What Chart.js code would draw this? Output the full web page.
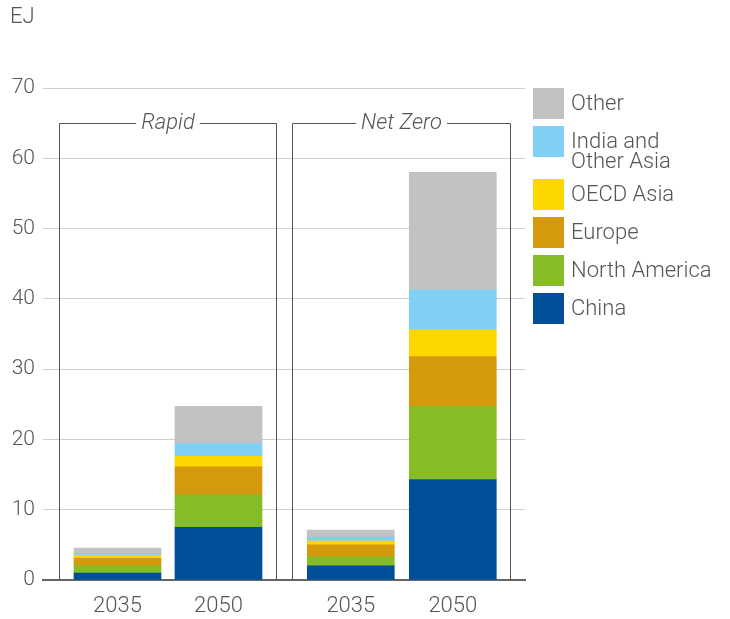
<!DOCTYPE html>
<html>
<head>
<meta charset="utf-8">
<script src="https://cdn.jsdelivr.net/npm/chart.js@4"></script>
<style>
  html, body { margin: 0; padding: 0; background: #fff; }
  #wrap { width: 730px; height: 619px; position: relative; }
</style>
</head>
<body>
<div id="wrap"><canvas id="regionChart"></canvas></div>
<script>
// bars: two scenarios x two years
const years = ['2035', '2050', '2035', '2050'];
const scenarios = ['Rapid', 'Net Zero'];
const unitLabel = 'EJ';

// values in EJ, bottom of the stack first
const china = [1.0, 7.5, 2.0, 14.3];
const northAmerica = [1.0, 4.6, 1.3, 10.4];
const europe = [1.1, 4.0, 1.7, 7.1];
const oecdAsia = [0.4, 1.5, 0.55, 3.8];
const indiaOtherAsia = [0.25, 1.8, 0.55, 5.7];
const other = [0.8, 5.3, 1.0, 16.7];

const seriesNames = ['China', 'North America', 'Europe', 'OECD Asia', ['India and', 'Other Asia'], 'Other'];
const seriesValues = [china, northAmerica, europe, oecdAsia, indiaOtherAsia, other];
const seriesColors = ['#004f98', '#86bc25', '#d4990d', '#ffd700', '#80cff5', '#c2c2c2'];

// where each bar sits on the x axis (gap between the two scenarios)
const barSlots = [0, 1, 2.31, 3.32];

const textColor = '#555';
const fontFamily = 'Roboto, "Liberation Sans", sans-serif';

const datasets = seriesValues.map(function (vals, i) {
    return {
        label: seriesNames[i],
        data: vals.map(function (v, j) { return { x: barSlots[j], y: v }; }),
        backgroundColor: seriesColors[i],
        borderWidth: 0,
        barThickness: 87
    };
});

// panel frames + scenario names, legend and unit label
const extrasPlugin = {
    id: 'extras',
    afterDatasetsDraw: function (chart) {
        const ctx = chart.ctx;
        const xs = chart.scales.x;
        const ys = chart.scales.y;
        const half = 87 / 2;

        ctx.save();
        ctx.font = 'italic 300 22px ' + fontFamily;
        ctx.textBaseline = 'middle';
        ctx.textAlign = 'center';
        ctx.strokeStyle = '#555';
        ctx.lineWidth = 1;
        scenarios.forEach(function (name, g) {
            const left = Math.round(xs.getPixelForValue(barSlots[g * 2]) - half - 15) + 0.5;
            const right = Math.round(xs.getPixelForValue(barSlots[g * 2 + 1]) + half + 14) + 0.5;
            const top = Math.round(ys.getPixelForValue(65)) + 0.5;
            const bottom = ys.getPixelForValue(0);
            const mid = (left + right) / 2;
            const tw = ctx.measureText(name).width / 2 + 5;
            ctx.beginPath();
            ctx.moveTo(mid - tw, top);
            ctx.lineTo(left, top);
            ctx.lineTo(left, bottom);
            ctx.moveTo(mid + tw, top);
            ctx.lineTo(right, top);
            ctx.lineTo(right, bottom);
            ctx.stroke();
            ctx.fillStyle = textColor;
            ctx.fillText(name, mid, top);
        });

        // legend, top of stack first
        ctx.font = '300 22px ' + fontFamily;
        ctx.textAlign = 'left';
        let y = 88;
        for (let i = seriesNames.length - 1; i >= 0; i--) {
            const lines = Array.isArray(seriesNames[i]) ? seriesNames[i] : [seriesNames[i]];
            ctx.fillStyle = seriesColors[i];
            ctx.fillRect(533, y, 31, 31);
            ctx.fillStyle = textColor;
            lines.forEach(function (t, k) {
                ctx.fillText(t, 571, y + 16 + k * 20);
            });
            y += 38 + (lines.length - 1) * 15;
        }

        ctx.fillText(unitLabel, 10, 17);
        ctx.restore();
    }
};

new Chart(document.getElementById('regionChart'), {
    type: 'bar',
    data: { datasets: datasets },
    options: {
        responsive: true,
        maintainAspectRatio: false,
        animation: false,
        layout: { padding: { top: 88, right: 205, left: 0, bottom: 0 } },
        plugins: {
            legend: { display: false },
            tooltip: { enabled: false }
        },
        scales: {
            x: {
                type: 'linear',
                stacked: true,
                offset: false,
                min: -0.7376,
                max: 4.035,
                grid: { display: false, offset: false, drawTicks: false },
                border: { color: '#666', width: 2 },
                afterBuildTicks: function (scale) {
                    scale.ticks = barSlots.map(function (v) { return { value: v }; });
                },
                afterFit: function (scale) { scale.height = 39; },
                ticks: {
                    autoSkip: false,
                    maxRotation: 0,
                    padding: 13,
                    color: textColor,
                    font: { family: fontFamily, size: 22, weight: 300 },
                    callback: function (value, index) { return years[index]; }
                }
            },
            y: {
                stacked: true,
                min: 0,
                max: 70,
                grid: { color: '#cfcfcf', lineWidth: 1, drawTicks: false },
                border: { display: false },
                afterFit: function (scale) { scale.width = 43; },
                ticks: {
                    stepSize: 10,
                    padding: 8,
                    color: textColor,
                    font: { family: fontFamily, size: 21, weight: 300 }
                }
            }
        }
    },
    plugins: [extrasPlugin]
});
</script>
</body>
</html>
